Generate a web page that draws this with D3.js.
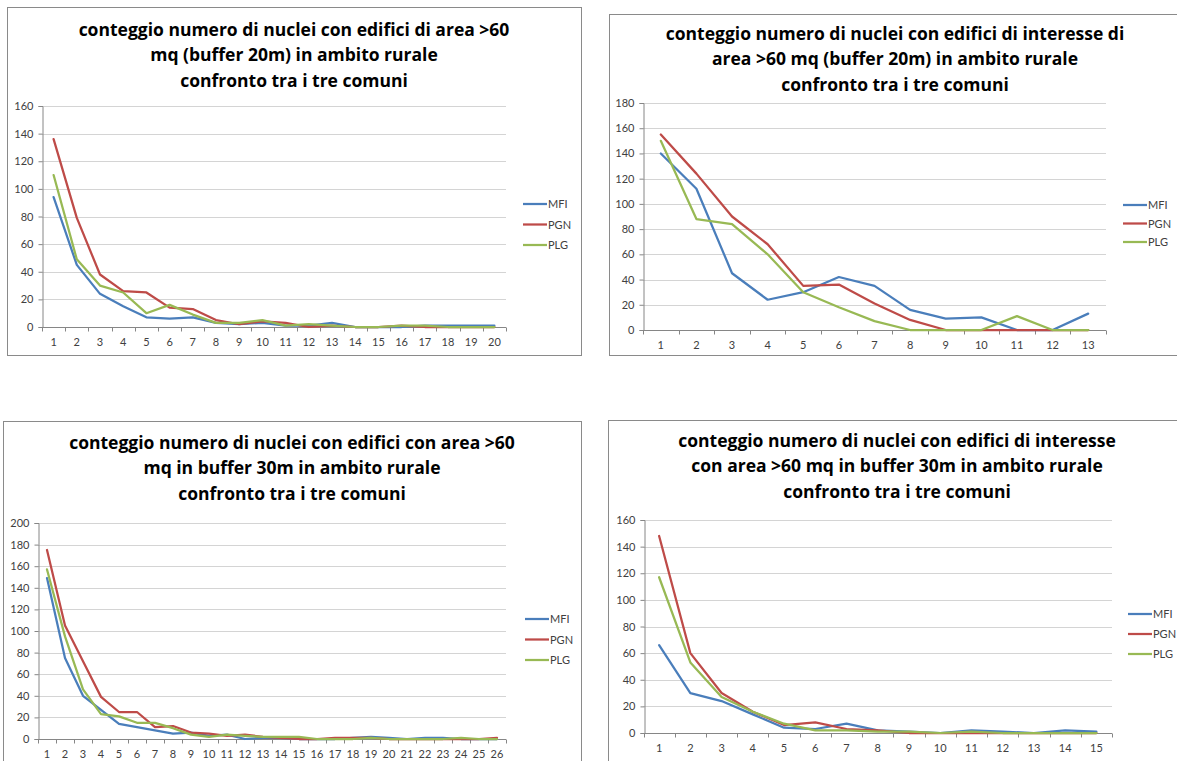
<!DOCTYPE html>
<html>
<head>
<meta charset="utf-8">
<script src="https://cdn.jsdelivr.net/npm/d3@7"></script>
<style>
  html, body { margin: 0; padding: 0; background: #ffffff; }
  svg { display: block; }
</style>
</head>
<body>
<svg id="chart" width="1177" height="761"></svg>
<script>
// ---------- DATA ----------
const seriesNames = ["MFI", "PGN", "PLG"];
const seriesColors = ["#4A7EBB", "#BE4B48", "#98B954"];

// Chart 1: buffer 20m, all buildings > 60 mq
const titles1 = ["conteggio numero di nuclei con edifici di area >60", "mq (buffer 20m) in ambito rurale", "confronto tra i tre comuni"];
const cats1 = d3.range(1, 21);
const yTicks1 = [0, 20, 40, 60, 80, 100, 120, 140, 160];
const mfi1 = [94, 45, 24, 15, 7, 6, 7, 3, 2, 3, 1, 1, 3, 0, 0, 0, 1, 1, 1, 1];
const pgn1 = [136, 79, 38, 26, 25, 14, 13, 5, 2, 4, 3, 0, 1, 0, 0, 1, 0, 0, 0, 0];
const plg1 = [110, 49, 30, 25, 10, 16, 9, 3, 3, 5, 1, 2, 1, 0, 0, 1, 1, 0, 0, 0];

// Chart 2: buffer 20m, buildings of interest > 60 mq
const titles2 = ["conteggio numero di nuclei con edifici di interesse di", "area >60 mq (buffer 20m) in ambito rurale", "confronto tra i tre comuni"];
const cats2 = d3.range(1, 14);
const yTicks2 = [0, 20, 40, 60, 80, 100, 120, 140, 160, 180];
const mfi2 = [140, 112, 45, 24, 30, 42, 35, 16, 9, 10, 0, 0, 13];
const pgn2 = [155, 124, 90, 68, 35, 36, 21, 8, 0, 0, 0, 0, 0];
const plg2 = [150, 88, 84, 60, 30, 18, 7, 0, 0, 0, 11, 0, 0];

// Chart 3: buffer 30m, all buildings > 60 mq
const titles3 = ["conteggio numero di nuclei con edifici con area >60", "mq in buffer 30m in ambito rurale", "confronto tra i tre comuni"];
const cats3 = d3.range(1, 27);
const yTicks3 = [0, 20, 40, 60, 80, 100, 120, 140, 160, 180, 200];
const mfi3 = [149, 75, 40, 27, 14, 11, 8, 5, 6, 3, 4, 0, 1, 1, 0, 0, 0, 1, 2, 1, 0, 1, 1, 0, 0, 0];
const pgn3 = [175, 105, 72, 39, 25, 25, 11, 12, 6, 5, 3, 4, 2, 1, 0, 0, 1, 1, 1, 0, 0, 0, 0, 0, 0, 1];
const plg3 = [157, 95, 46, 23, 21, 15, 15, 10, 4, 2, 4, 3, 2, 2, 2, 0, 0, 0, 1, 0, 0, 0, 0, 1, 0, 0];

// Chart 4: buffer 30m, buildings of interest > 60 mq
const titles4 = ["conteggio numero di nuclei con edifici di interesse", "con area >60 mq in buffer 30m in ambito rurale", "confronto tra i tre comuni"];
const cats4 = d3.range(1, 16);
const yTicks4 = [0, 20, 40, 60, 80, 100, 120, 140, 160];
const mfi4 = [66, 30, 24, 14, 4, 3, 7, 2, 1, 0, 2, 1, 0, 2, 1];
const pgn4 = [148, 60, 30, 16, 6, 8, 3, 2, 0, 0, 0, 0, 0, 0, 0];
const plg4 = [117, 53, 27, 16, 7, 2, 2, 1, 1, 0, 1, 0, 0, 0, 0];

// ---------- LAYOUT ----------
const panels = [
  { titles: titles1, cats: cats1, ticks: yTicks1, series: [mfi1, pgn1, plg1],
    box: { x: 7.5, y: 7.5, w: 574, h: 348 }, plot: { x0: 42, x1: 506, y0: 106, y1: 327 },
    titleY: 36, titleCx: 294, legend: { x: 523, y: 204, dy: 20.5 } },
  { titles: titles2, cats: cats2, ticks: yTicks2, series: [mfi2, pgn2, plg2],
    box: { x: 609.5, y: 14.5, w: 600, h: 341 }, plot: { x0: 643, x1: 1106, y0: 103, y1: 330 },
    titleY: 40, titleCx: 895, legend: { x: 1123, y: 205, dy: 18.5 } },
  { titles: titles3, cats: cats3, ticks: yTicks3, series: [mfi3, pgn3, plg3],
    box: { x: 3.5, y: 421.5, w: 578, h: 400 }, plot: { x0: 38, x1: 506, y0: 523, y1: 739 },
    titleY: 449, titleCx: 292, legend: { x: 525, y: 619, dy: 20.5 } },
  { titles: titles4, cats: cats4, ticks: yTicks4, series: [mfi4, pgn4, plg4],
    box: { x: 608.5, y: 420.5, w: 600, h: 400 }, plot: { x0: 643.5, x1: 1112, y0: 520, y1: 733 },
    titleY: 447, titleCx: 897, legend: { x: 1128, y: 614, dy: 20 } }
];

const svg = d3.select("#chart");
const TITLE_FONT = "'Open Sans', Lato, 'Liberation Sans', sans-serif";
const FONT = "Lato, 'Open Sans', 'Liberation Sans', sans-serif";

panels.forEach(p => {
  const g = svg.append("g");

  // panel frame
  g.append("rect")
    .attr("x", p.box.x).attr("y", p.box.y)
    .attr("width", p.box.w).attr("height", p.box.h)
    .attr("fill", "#ffffff").attr("stroke", "#8a8a8a").attr("stroke-width", 1);

  // title
  g.append("text")
    .attr("x", p.titleCx).attr("y", p.titleY)
    .attr("text-anchor", "middle")
    .attr("font-family", TITLE_FONT).attr("font-weight", "bold")
    .attr("font-size", "17.5px").attr("fill", "#000")
    .selectAll("tspan").data(p.titles).join("tspan")
    .attr("x", p.titleCx).attr("dy", (d, i) => i === 0 ? 0 : 25.3)
    .text(d => d);

  const x = d3.scaleBand().domain(p.cats).range([p.plot.x0, p.plot.x1]).padding(0);
  const y = d3.scaleLinear().domain([0, d3.max(p.ticks)]).range([p.plot.y1, p.plot.y0]);

  // gridlines
  g.append("g").selectAll("line").data(p.ticks.filter(t => t > 0)).join("line")
    .attr("x1", p.plot.x0).attr("x2", p.plot.x1)
    .attr("y1", d => Math.round(y(d)) + 0.5).attr("y2", d => Math.round(y(d)) + 0.5)
    .attr("stroke", "#d4d4d4").attr("stroke-width", 1);

  // y axis
  const yAxis = d3.axisLeft(y).tickValues(p.ticks).tickSize(4).tickPadding(5);
  const ya = g.append("g").attr("transform", `translate(${Math.round(p.plot.x0) + 0.5},0)`).call(yAxis);
  ya.select(".domain").attr("stroke", "#868686");
  ya.selectAll(".tick line").attr("stroke", "#868686");
  ya.selectAll(".tick text").attr("font-family", FONT).attr("font-size", "11px").attr("fill", "#404040");

  // x axis (category axis with ticks between categories)
  const xa = g.append("g").attr("transform", `translate(0,${Math.round(p.plot.y1) + 0.5})`);
  xa.append("line").attr("x1", p.plot.x0).attr("x2", p.plot.x1).attr("stroke", "#868686");
  const bounds = p.cats.map(c => x(c)).concat([x(p.cats[p.cats.length - 1]) + x.bandwidth()]);
  xa.selectAll("line.tk").data(bounds).join("line").attr("class", "tk")
    .attr("x1", d => Math.round(d) + 0.5).attr("x2", d => Math.round(d) + 0.5)
    .attr("y1", 0).attr("y2", 4).attr("stroke", "#868686");
  xa.selectAll("text").data(p.cats).join("text")
    .attr("x", d => x(d) + x.bandwidth() / 2).attr("y", 18.5)
    .attr("text-anchor", "middle")
    .attr("font-family", FONT).attr("font-size", "11px").attr("fill", "#404040")
    .text(d => d);

  // lines
  const line = d3.line().x((d, i) => x(p.cats[i]) + x.bandwidth() / 2).y(d => y(d));
  p.series.forEach((s, k) => {
    g.append("path").datum(s)
      .attr("d", line).attr("fill", "none")
      .attr("stroke", seriesColors[k]).attr("stroke-width", 2.25)
      .attr("stroke-linejoin", "round").attr("stroke-linecap", "round");
  });

  // legend
  const lg = g.append("g");
  seriesNames.forEach((n, k) => {
    const yy = p.legend.y + k * p.legend.dy;
    lg.append("line").attr("x1", p.legend.x).attr("x2", p.legend.x + 24)
      .attr("y1", yy).attr("y2", yy)
      .attr("stroke", seriesColors[k]).attr("stroke-width", 2.25);
    lg.append("text").attr("x", p.legend.x + 25).attr("y", yy + 4)
      .attr("font-family", FONT).attr("font-size", "11px").attr("fill", "#404040")
      .text(n);
  });
});
</script>
</body>
</html>
